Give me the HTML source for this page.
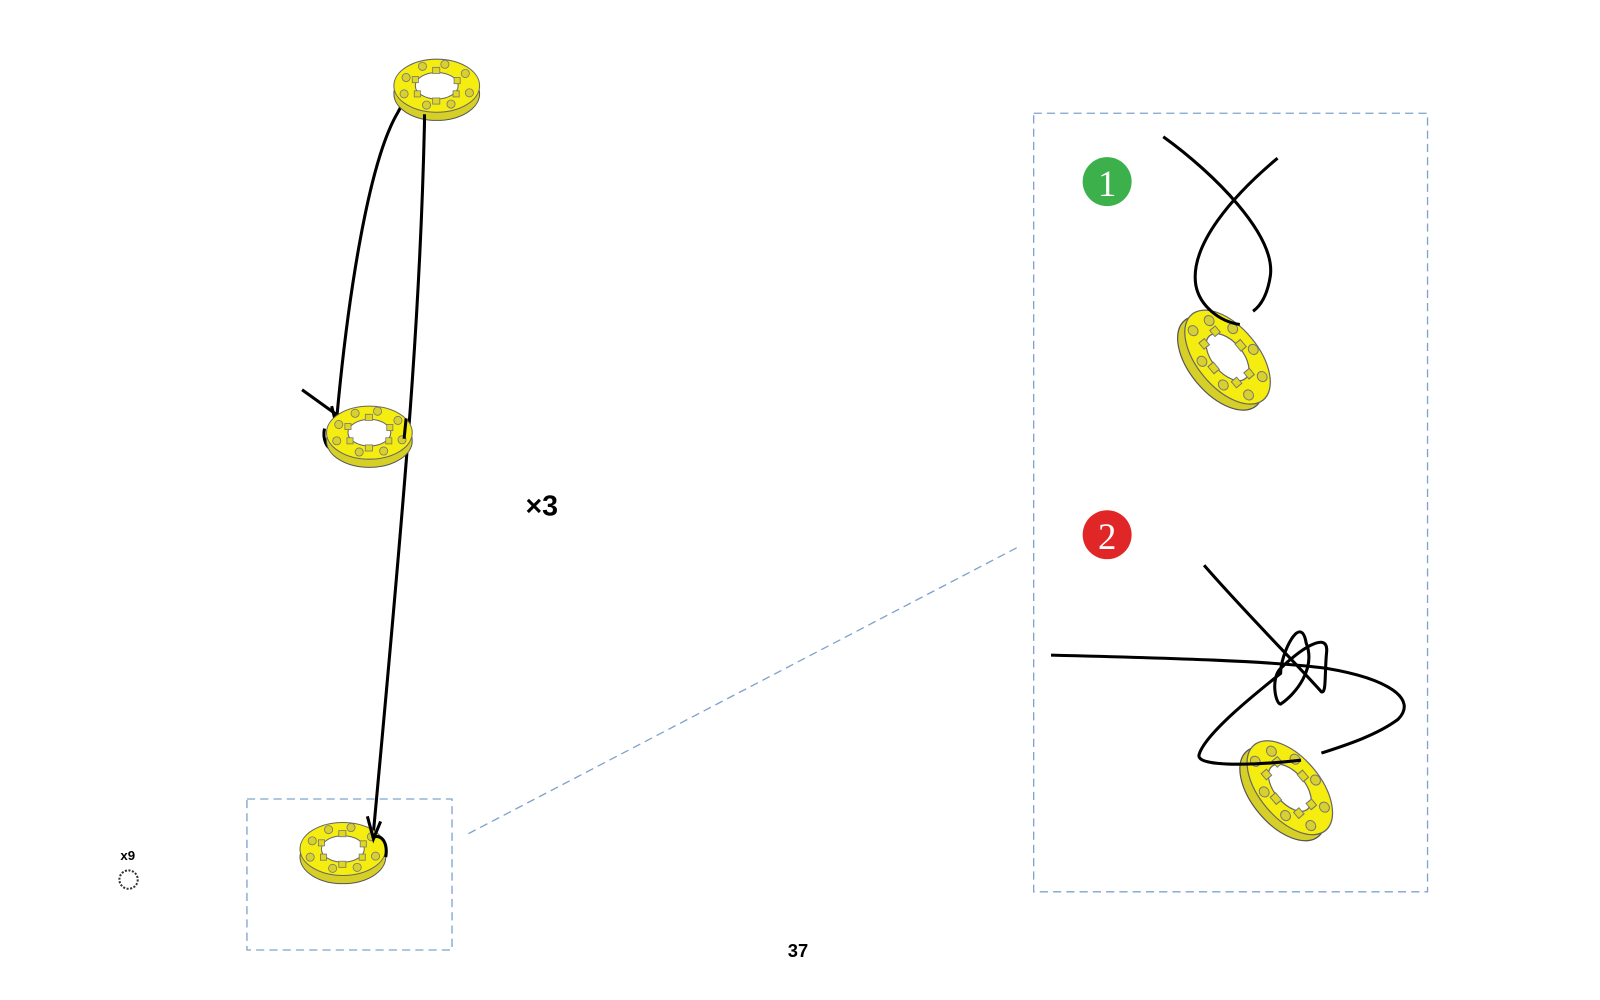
<!DOCTYPE html>
<html><head><meta charset="utf-8"><style>
html,body{margin:0;padding:0;background:#fff;width:1600px;height:1000px;overflow:hidden}
svg{display:block}
</style></head><body>
<svg width="1600" height="1000" viewBox="0 0 1568 980" preserveAspectRatio="none" xmlns="http://www.w3.org/2000/svg">
<defs>
<g id="ring">
  <ellipse cx="0" cy="8" rx="42" ry="26" fill="#d6cf28" stroke="#555" stroke-width="1"/>
  <ellipse cx="0" cy="0" rx="42" ry="26" fill="#f5ec10" stroke="#666" stroke-width="1"/>
  <ellipse cx="0" cy="0" rx="21" ry="13" fill="#fff" stroke="#666" stroke-width="1"/>
  <g fill="#e0d820" stroke="#777" stroke-width="0.8">
    <rect x="-24" y="-9" width="6" height="6"/><rect x="-4" y="-18" width="7" height="6"/><rect x="17" y="-8" width="6" height="6"/>
    <rect x="-4" y="12" width="7" height="6"/><rect x="-22" y="5" width="6" height="6"/><rect x="16" y="5" width="6" height="6"/>
  </g>
  <g fill="#d8d030" stroke="#777" stroke-width="0.8">
    <circle cx="-30" cy="-8" r="4"/><circle cx="-14" cy="-19" r="4"/><circle cx="8" cy="-21" r="4"/>
    <circle cx="28" cy="-12" r="4"/><circle cx="32" cy="7" r="4"/><circle cx="14" cy="18" r="4"/>
    <circle cx="-10" cy="19" r="4"/><circle cx="-32" cy="8" r="4"/>
  </g>
</g>
</defs>
<path d="M416 120 C412 300 400 450 366 815" fill="none" stroke="#000" stroke-width="3"/>
<path d="M330 410 C340 300 360 160 390 110 C400 90 410 92 413 108" fill="none" stroke="#000" stroke-width="3"/>
<path d="M296 382 L335 410 M325 398 L330 418 M318 420 C316 430 320 440 326 440" fill="none" stroke="#000" stroke-width="3"/>
<use href="#ring" transform="translate(428,84)"/>
<use href="#ring" transform="translate(362,424)"/>
<use href="#ring" transform="translate(336,832)"/>
<path d="M416 120 L416 112 M396 430 L398 410" stroke="#000" stroke-width="3"/>
<path d="M360 800 L366 822 L373 805 M366 820 C376 818 380 828 378 840" fill="none" stroke="#000" stroke-width="3"/>
<text x="515" y="505" font-family="Liberation Sans, sans-serif" font-size="28" font-weight="bold">×3</text>
<text x="118" y="843" font-family="Liberation Sans, sans-serif" font-size="13" font-weight="bold">x9</text>
<circle cx="126" cy="862" r="9" fill="none" stroke="#333" stroke-width="2" stroke-dasharray="2 1.5"/>
<text x="772" y="938" font-family="Liberation Sans, sans-serif" font-size="18" font-weight="bold">37</text>
<rect x="242" y="783" width="201" height="148" fill="none" stroke="#7fa3cc" stroke-width="1.3" stroke-dasharray="8 5"/>
<rect x="1013" y="111" width="386" height="763" fill="none" stroke="#7fa3cc" stroke-width="1.3" stroke-dasharray="8 5"/>
<line x1="459" y1="817" x2="998" y2="536" stroke="#7fa3cc" stroke-width="1.3" stroke-dasharray="8 5"/>
<ellipse cx="1085" cy="178" rx="24" ry="24" fill="#3cb04a"/>
<text x="1085" y="192" text-anchor="middle" fill="#fff" font-family="Liberation Serif, serif" font-size="36">1</text>
<use href="#ring" transform="translate(1203,350) rotate(50) scale(1.3,1.15)"/>
<path d="M1140 134 C1190 170 1250 230 1245 270 C1242 290 1235 300 1228 305" fill="none" stroke="#000" stroke-width="3"/>
<path d="M1252 155 C1210 190 1165 240 1172 280 C1176 300 1195 315 1215 318" fill="none" stroke="#000" stroke-width="3"/>
<ellipse cx="1085" cy="524" rx="24" ry="24" fill="#e02626"/>
<text x="1085" y="538" text-anchor="middle" fill="#fff" font-family="Liberation Serif, serif" font-size="36">2</text>
<use href="#ring" transform="translate(1264,772) rotate(50) scale(1.3,1.15)"/>
<path d="M1030 642 C1150 645 1250 648 1300 655 C1360 665 1390 685 1370 705 C1350 720 1320 730 1295 738" fill="none" stroke="#000" stroke-width="3"/>
<path d="M1180 554 C1220 600 1270 650 1295 678 C1300 680 1298 660 1300 640 C1303 615 1270 640 1255 655 C1245 665 1250 690 1255 690 C1270 680 1290 655 1280 630 C1275 600 1255 640 1255 660 C1230 680 1180 720 1175 740 C1173 752 1230 750 1275 745" fill="none" stroke="#000" stroke-width="3"/>
</svg>
</body></html>
